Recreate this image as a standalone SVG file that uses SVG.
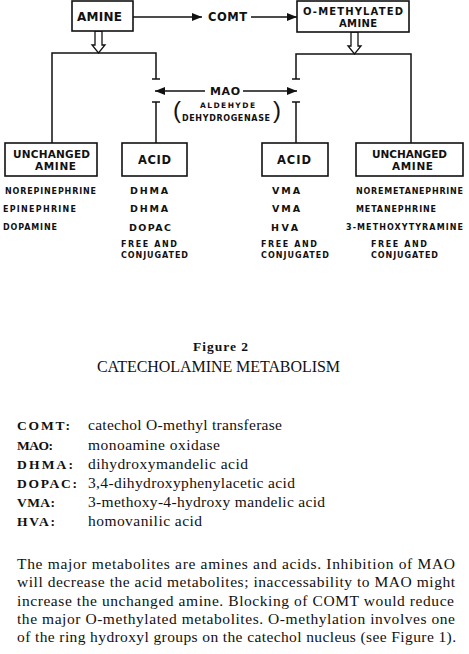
<svg xmlns="http://www.w3.org/2000/svg" width="469" height="654" viewBox="0 0 469 654">
<style>
.bx{fill:#fff;stroke:#111;stroke-width:1.6}
.ln{fill:none;stroke:#111;stroke-width:1.5}
.ha{fill:#fff;stroke:#111;stroke-width:1.3;stroke-linejoin:miter}
.d{font-family:"DejaVu Sans","Liberation Sans",Arial,sans-serif;font-weight:bold;fill:#111}
.pr{font-family:"Liberation Sans",Arial,sans-serif;font-weight:normal;fill:#111;font-size:24px}
.s{font-family:"Liberation Serif","Times New Roman",serif;fill:#111}
.ab{font-family:"Liberation Serif","Times New Roman",serif;font-weight:bold;fill:#111;font-size:13.5px}
.df{font-family:"Liberation Serif","Times New Roman",serif;fill:#111;font-size:15.5px}
.pa{font-family:"Liberation Serif","Times New Roman",serif;fill:#111;font-size:15.5px}
</style>
<defs>
<marker id="ah" viewBox="0 0 10 8" refX="10" refY="4" markerWidth="10" markerHeight="8" markerUnits="userSpaceOnUse" orient="auto-start-reverse">
<path d="M0,0 L10,4 L0,8 z" fill="#111"/>
</marker>
</defs>
<rect width="469" height="654" fill="#fff"/>

<g id="connectors">
<line class="ln" x1="133" y1="17" x2="202" y2="17" marker-end="url(#ah)"/>
<line class="ln" x1="251" y1="17" x2="297" y2="17" marker-end="url(#ah)"/>
<polygon class="ha" points="95,31 102,31 102,45 105,45 98.5,53 92,45 95,45"/>
<polygon class="ha" points="351,32 358,32 358,46 361,46 354.5,54 348,46 351,46"/>
<polyline class="ln" points="52,143 52,53 156,53 156,79"/>
<line class="ln" x1="152" y1="79" x2="160" y2="79"/>
<line class="ln" x1="152" y1="102" x2="160" y2="102"/>
<line class="ln" x1="156" y1="102" x2="156" y2="143"/>
<polyline class="ln" points="411,143 411,54 296,54 296,79"/>
<line class="ln" x1="292" y1="79" x2="300" y2="79"/>
<line class="ln" x1="292" y1="102" x2="300" y2="102"/>
<line class="ln" x1="296" y1="102" x2="296" y2="143"/>
<line class="ln" x1="205" y1="91" x2="155" y2="91" marker-end="url(#ah)"/>
<line class="ln" x1="243" y1="91" x2="297" y2="91" marker-end="url(#ah)"/>
</g>

<g id="amine">
<rect class="bx" x="72" y="1" width="61" height="30"/>
<text class="d" x="77" y="21.3" font-size="12" textLength="45" lengthAdjust="spacing">AMINE</text>
</g>
<g id="comt">
<text class="d" x="208" y="21" font-size="11.5" textLength="39" lengthAdjust="spacing">COMT</text>
</g>
<g id="omethylated">
<rect class="bx" x="297" y="1" width="112" height="31"/>
<text class="d" x="303" y="14.5" font-size="10" textLength="100" lengthAdjust="spacing">O-METHYLATED</text>
<text class="d" x="339" y="27" font-size="10" textLength="38" lengthAdjust="spacing">AMINE</text>
</g>
<g id="mao">
<text class="d" x="210" y="95" font-size="11" textLength="30" lengthAdjust="spacing">MAO</text>
<text class="d" x="200" y="107.7" font-size="7.5" textLength="55" lengthAdjust="spacing">ALDEHYDE</text>
<text class="d" x="182" y="121" font-size="8" textLength="88" lengthAdjust="spacing">DEHYDROGENASE</text>
<text class="pr" x="173" y="118">(</text>
<text class="pr" x="281" y="118" text-anchor="end">)</text>
</g>

<g id="unchanged-left">
<rect class="bx" x="5" y="143" width="92" height="33"/>
<text class="d" x="13" y="157.7" font-size="10.5" textLength="77" lengthAdjust="spacing">UNCHANGED</text>
<text class="d" x="35" y="170.2" font-size="10.5" textLength="41" lengthAdjust="spacing">AMINE</text>
<text class="d" x="5" y="193.5" font-size="8" textLength="91" lengthAdjust="spacing">NOREPINEPHRINE</text>
<text class="d" x="3" y="211.8" font-size="8" textLength="73" lengthAdjust="spacing">EPINEPHRINE</text>
<text class="d" x="3" y="230" font-size="8" textLength="54" lengthAdjust="spacing">DOPAMINE</text>
</g>

<g id="acid-left">
<rect class="bx" x="122" y="143" width="65" height="33"/>
<text class="d" x="138" y="164.3" font-size="11.5" textLength="33" lengthAdjust="spacing">ACID</text>
<text class="d" x="130" y="194" font-size="9.5" textLength="38" lengthAdjust="spacing">DHMA</text>
<text class="d" x="130" y="212" font-size="9.5" textLength="38" lengthAdjust="spacing">DHMA</text>
<text class="d" x="129" y="231" font-size="9.5" textLength="42" lengthAdjust="spacing">DOPAC</text>
<text class="d" x="121" y="247.3" font-size="8" textLength="56" lengthAdjust="spacing">FREE AND</text>
<text class="d" x="121" y="258.3" font-size="8" textLength="67" lengthAdjust="spacing">CONJUGATED</text>
</g>

<g id="acid-right">
<rect class="bx" x="262" y="143" width="66" height="33"/>
<text class="d" x="277" y="164.3" font-size="11.5" textLength="34" lengthAdjust="spacing">ACID</text>
<text class="d" x="272" y="194" font-size="9.5" textLength="28" lengthAdjust="spacing">VMA</text>
<text class="d" x="272" y="212" font-size="9.5" textLength="28" lengthAdjust="spacing">VMA</text>
<text class="d" x="271" y="231" font-size="9.5" textLength="27" lengthAdjust="spacing">HVA</text>
<text class="d" x="261" y="247.3" font-size="8" textLength="56" lengthAdjust="spacing">FREE AND</text>
<text class="d" x="261" y="258.3" font-size="8" textLength="68" lengthAdjust="spacing">CONJUGATED</text>
</g>

<g id="unchanged-right">
<rect class="bx" x="356" y="143" width="107" height="33"/>
<text class="d" x="372" y="157.7" font-size="10.5" textLength="75" lengthAdjust="spacing">UNCHANGED</text>
<text class="d" x="392" y="170.2" font-size="10.5" textLength="41" lengthAdjust="spacing">AMINE</text>
<text class="d" x="356" y="193.5" font-size="8" textLength="107" lengthAdjust="spacing">NOREMETANEPHRINE</text>
<text class="d" x="356" y="211.8" font-size="8" textLength="80" lengthAdjust="spacing">METANEPHRINE</text>
<text class="d" x="346" y="230" font-size="8" textLength="117" lengthAdjust="spacing">3-METHOXYTYRAMINE</text>
<text class="d" x="371" y="247.3" font-size="8" textLength="56" lengthAdjust="spacing">FREE AND</text>
<text class="d" x="371" y="258.3" font-size="8" textLength="67" lengthAdjust="spacing">CONJUGATED</text>
</g>

<g id="caption">
<text class="s" x="193" y="351" font-size="13.5" font-weight="bold" textLength="55" lengthAdjust="spacing">Figure 2</text>
<text class="s" x="97" y="372" font-size="16" textLength="243" lengthAdjust="spacing">CATECHOLAMINE METABOLISM</text>
</g>

<g id="legend">
<text class="ab" x="17" y="430" textLength="53" lengthAdjust="spacing">COMT:</text>
<text class="df" x="88" y="430" textLength="194" lengthAdjust="spacing">catechol O-methyl transferase</text>
<text class="ab" x="17" y="450" textLength="36" lengthAdjust="spacing">MAO:</text>
<text class="df" x="88" y="450" textLength="132" lengthAdjust="spacing">monoamine oxidase</text>
<text class="ab" x="17" y="469" textLength="56" lengthAdjust="spacing">DHMA:</text>
<text class="df" x="88" y="469" textLength="160" lengthAdjust="spacing">dihydroxymandelic acid</text>
<text class="ab" x="17" y="488" textLength="60" lengthAdjust="spacing">DOPAC:</text>
<text class="df" x="88" y="488" textLength="207" lengthAdjust="spacing">3,4-dihydroxyphenylacetic acid</text>
<text class="ab" x="17" y="507" textLength="38" lengthAdjust="spacing">VMA:</text>
<text class="df" x="88" y="507" textLength="237" lengthAdjust="spacing">3-methoxy-4-hydroxy mandelic acid</text>
<text class="ab" x="17" y="526" textLength="38" lengthAdjust="spacing">HVA:</text>
<text class="df" x="88" y="526" textLength="114" lengthAdjust="spacing">homovanilic acid</text>
</g>

<g id="paragraph">
<text class="pa" x="17" y="569" textLength="438" lengthAdjust="spacing">The major metabolites are amines and acids. Inhibition of MAO</text>
<text class="pa" x="17" y="587" textLength="438" lengthAdjust="spacing">will decrease the acid metabolites; inaccessability to MAO might</text>
<text class="pa" x="17" y="605.5" textLength="437" lengthAdjust="spacing">increase the unchanged amine. Blocking of COMT would reduce</text>
<text class="pa" x="17" y="624" textLength="438" lengthAdjust="spacing">the major O-methylated metabolites. O-methylation involves one</text>
<text class="pa" x="17" y="642" textLength="439" lengthAdjust="spacing">of the ring hydroxyl groups on the catechol nucleus (see Figure 1).</text>
</g>
</svg>
